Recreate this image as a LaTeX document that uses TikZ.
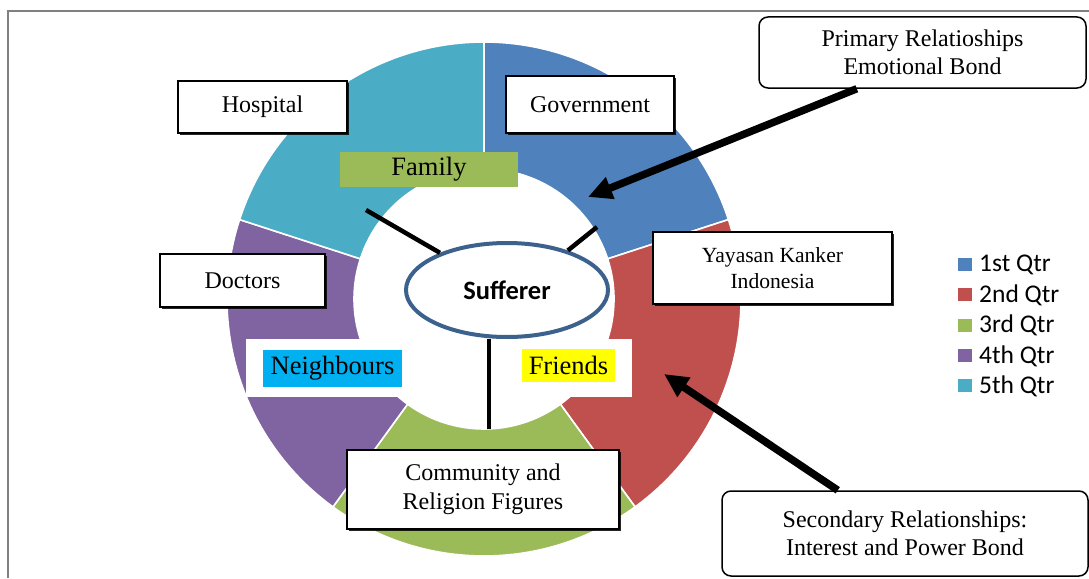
\documentclass[tikz,border=0pt]{standalone}
\usepackage{fontspec}
\setmainfont{Liberation Serif}
\newfontfamily\calib{Carlito}
\usetikzlibrary{calc,arrows.meta,shadows,shapes.geometric}
\definecolor{cblue}{HTML}{4F81BD}
\definecolor{cred}{HTML}{C0504D}
\definecolor{cgreen}{HTML}{9BBB59}
\definecolor{cpurple}{HTML}{8064A2}
\definecolor{ccyan}{HTML}{4BACC6}
\definecolor{cneigh}{HTML}{00B0F0}
\definecolor{cyell}{HTML}{FFFF00}
\definecolor{ellline}{HTML}{3C618C}
\tikzset{
  shbox/.style={draw, line width=1.5pt, fill=white, inner sep=0pt, align=center,
     drop shadow={shadow xshift=1.6pt, shadow yshift=-1.6pt, opacity=0.85, fill=black}},
  rbox/.style={draw, line width=1.5pt, fill=white, inner sep=0pt, align=center, rounded corners=9pt},
  seg/.style={draw=white, line width=1.6pt},
  conn/.style={line width=4.5pt},
  bigarrow/.style={line width=7.5pt, -{Triangle[length=24pt,width=22pt]}},
  lab/.style={inner sep=0pt, font=\fontsize{26.5}{30}\selectfont},
  leg/.style={anchor=west, inner sep=0pt, font=\calib\fontsize{25.5}{28}\selectfont},
  bt/.style={font=\fontsize{24}{28.5}\selectfont},
}
\begin{document}
\begin{tikzpicture}[x=1pt,y=-1pt]
\useasboundingbox (0,0) rectangle (1089,578);
% frame
\draw[gray, line width=1.5pt] (8,578) -- (8,11) -- (1089,11);
% donut
\begin{scope}[shift={(484,299)}, y=1pt]
  \def\Ro{257}\def\Ri{130}
  \foreach \a/\b/\c in {18/90/cblue, -54/18/cred, -126/-54/cgreen, 162/234/cpurple, 90/162/ccyan}{
    \filldraw[fill=\c, seg] (\a:\Ri) -- (\a:\Ro) arc[start angle=\a, end angle=\b, radius=\Ro]
       -- (\b:\Ri) arc[start angle=\b, end angle=\a, radius=\Ri] -- cycle;
  }
\end{scope}
% white band behind Neighbours / Friends
\fill[white] (246,339) rectangle (632,397);
% colored labels
\node[lab, fill=cgreen, minimum width=178pt, minimum height=35pt] (family) at (429,169.5) {Family};
\node[lab, fill=cneigh, minimum width=139pt, minimum height=37pt] (neigh) at (332.5,368.5) {Neighbours};
\node[lab, fill=cyell, minimum width=93pt, minimum height=33pt] (friends) at (568.5,365.5) {Friends};
% boxes
\node[shbox, bt, minimum width=169pt, minimum height=52pt] (hosp) at (262.5,107) {Hospital};
\node[shbox, bt, minimum width=168pt, minimum height=57pt] (gov) at (590,104.5) {Government};
\node[shbox, bt, minimum width=165pt, minimum height=53pt] (doc) at (242.5,280.5) {Doctors};
\node[shbox, minimum width=239pt, minimum height=72pt, font=\fontsize{21.6}{26}\selectfont] (yks) at (772.5,268) {Yayasan Kanker\\Indonesia};
\node[shbox, bt, minimum width=272pt, minimum height=79pt] (comm) at (483,489.5) {Community and\\Religion Figures};
\node[rbox, bt, minimum width=327pt, minimum height=71pt] (prim) at (922.5,52.5) {Primary Relatioships\\Emotional Bond};
\node[rbox, bt, minimum width=366pt, minimum height=85pt] (sec) at (905,533.5) {Secondary Relationships:\\Interest and Power Bond};
% sufferer
\node[ellipse, draw=ellline, line width=4pt, fill=white, minimum width=202pt, minimum height=94pt, inner sep=0pt,
      font=\calib\bfseries\fontsize{26.5}{30}\selectfont] (suf) at (507,290) {Sufferer};
% connectors
\coordinate (e1) at (366,210);
\coordinate (e2) at (597,227);
\coordinate (e3) at (489,429);
\draw[conn] (suf.151) -- (e1);
\draw[conn] (suf.33) -- (e2);
\draw[conn] (suf.south -| e3) -- (e3);
% arrows
\coordinate (t1) at (588,197);
\coordinate (t2) at (664,374);
\draw[bigarrow] ($(prim.south west)!0.30!(prim.south east)$) -- (t1);
\draw[bigarrow] ($(sec.north west)!0.317!(sec.north east)$) -- (t2);
% legend
\foreach \i/\c/\t in {0/cblue/1st Qtr, 1/cred/2nd Qtr, 2/cgreen/3rd Qtr, 3/cpurple/4th Qtr, 4/ccyan/5th Qtr}{
  \fill[\c] (958,{258+30.3*\i}) rectangle (972,{271+30.3*\i});
  \node[leg] (leg\i) at (979,{265+30.3*\i}) {\t};
}
\end{tikzpicture}
\end{document}
